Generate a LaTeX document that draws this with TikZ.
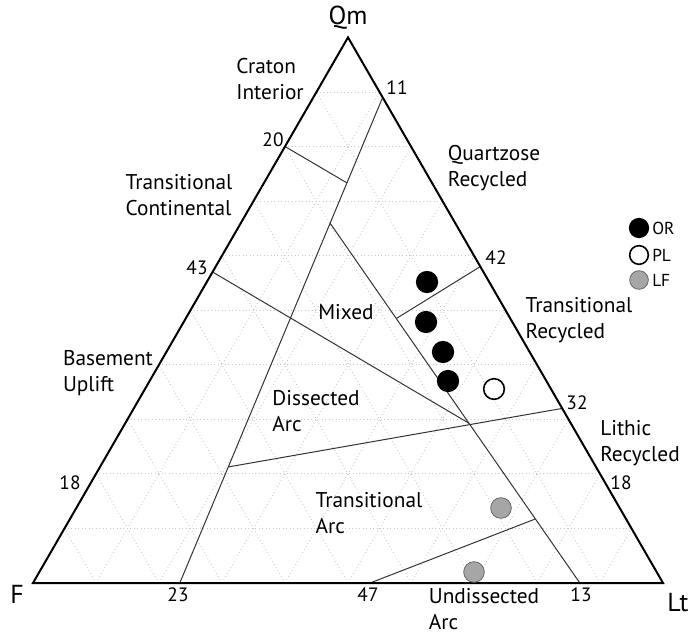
\documentclass[tikz,border=0pt]{standalone}
\usepackage{fontspec}
\setmainfont{PT Sans}
\usetikzlibrary{calc}
\begin{document}
\begin{tikzpicture}[x=0.75pt,y=-0.75pt]
  \tikzset{apex/.style = {font=\fontsize{19.5}{21}\selectfont}}
  \tikzset{field/.style = {font=\fontsize{16}{19.5}\selectfont, align=left, inner sep=0pt}}
  \tikzset{tick/.style = {font=\fontsize{14.5}{16}\selectfont, inner sep=0pt}}
  \tikzset{side/.style = {line width=1.5pt, line join=miter}}
  \tikzset{bound/.style = {line width=0.75pt, draw=black!80}}
  \tikzset{grid/.style = {dotted, draw=black!22, line width=0.6pt}}
  \tikzset{sample/.style = {shape=circle, draw, line width=1.2pt, minimum size=15.5pt, inner sep=0pt}}
  \tikzset{key/.style = {sample, minimum size=14pt}}
  \tikzset{keytext/.style = {font=\fontsize{13}{15}\selectfont, anchor=west, inner sep=0pt}}
  \useasboundingbox (0,0) rectangle (691,634);

  \coordinate (F) at (33,583);
  \coordinate (Lt) at (663,583);
  \coordinate (Qm) at (348,37.4);

  \foreach \i [evaluate=\i as \t using \i/10] in {1,...,9} {
    \draw[grid] ($(Qm)!\t!(F)$) -- ($(Qm)!\t!(Lt)$);
    \draw[grid] ($(F)!\t!(Lt)$) -- ($(F)!\t!(Qm)$);
    \draw[grid] ($(Lt)!\t!(F)$) -- ($(Lt)!\t!(Qm)$);
  }

  \coordinate (a11) at ($(Qm)!0.11!(Lt)$);
  \coordinate (b23) at ($(F)!0.233!(Lt)$);
  \coordinate (c20) at ($(Qm)!0.20!(F)$);
  \coordinate (d43) at ($(Qm)!0.43!(F)$);
  \coordinate (f13) at ($(F)!0.868!(Lt)$);
  \coordinate (g42) at ($(Qm)!0.42!(Lt)$);
  \coordinate (i32) at ($(Qm)!0.68!(Lt)$);
  \coordinate (l47) at ($(F)!0.535!(Lt)$);
  \coordinate (p1) at ($(a11)!0.176!(b23)$);
  \coordinate (e) at ($(a11)!0.259!(b23)$);
  \coordinate (j) at ($(a11)!0.761!(b23)$);
  \coordinate (q) at ($(e)!0.556!(f13)$);
  \coordinate (h) at ($(e)!0.265!(f13)$);
  \coordinate (k) at ($(e)!0.822!(f13)$);

  \draw[bound] (a11) -- (b23);
  \draw[bound] (c20) -- (p1);
  \draw[bound] (d43) -- (q);
  \draw[bound] (e) -- (f13);
  \draw[bound] (g42) -- (h);
  \draw[bound] (j) -- (i32);
  \draw[bound] (k) -- (l47);

  \draw[side] (F) -- (Lt) -- (Qm) -- cycle;

  \node[apex] (qm-lab) at (348,18) {Qm};
  \node[apex] (f-lab) at (17,594) {F};
  \node[apex] (lt-lab) at (678,603) {Lt};

  \node[tick] (t11) at (397,88) {11};
  \node[tick] (t20) at (273,140) {20};
  \node[tick] (t43) at (197,268) {43};
  \node[tick] (t42) at (496,258) {42};
  \node[tick] (t32) at (577,403) {32};
  \node[tick] (t18l) at (70,483) {18};
  \node[tick] (t18r) at (621,483) {18};
  \node[tick] (t23) at (178,595) {23};
  \node[tick] (t47) at (368,595) {47};
  \node[tick] (t13) at (581,595) {13};

  \node[field] (craton) at (270,79) {Craton\\Interior};
  \node[field] (quartz) at (494,168) {Quartzose\\Recycled};
  \node[field] (trcont) at (179,195) {Transitional\\Continental};
  \node[field] (mixed) at (346,312) {Mixed};
  \node[field] (trrec) at (579,320) {Transitional\\Recycled};
  \node[field] (base) at (108,373) {Basement\\Uplift};
  \node[field] (dissect) at (316,411) {Dissected\\Arc};
  \node[field] (lithic) at (640,443) {Lithic\\Recycled};
  \node[field] (trarc) at (369,513) {Transitional\\Arc};
  \node[field] (undis) at (484,609) {Undissected\\Arc};

  \node[sample, fill=black] (or1) at (427,282) {};
  \node[sample, fill=black] (or2) at (426,322) {};
  \node[sample, fill=black] (or3) at (443,352) {};
  \node[sample, fill=black] (or4) at (448,381) {};
  \node[sample, fill=white] (pl1) at (494,389) {};
  \node[sample, fill=black!35, draw=black!60, line width=0.6pt] (lf1) at (501,508) {};
  \node[sample, fill=black!35, draw=black!60, line width=0.6pt] (lf2) at (474,572) {};

  \node[key, fill=black] (key-or) at (639,228) {};
  \node[key, fill=white] (key-pl) at (639,255) {};
  \node[key, fill=black!35, draw=black!60, line width=0.6pt] (key-lf) at (639,280) {};
  \node[keytext] (key-or-lab) at (652,228) {OR};
  \node[keytext] (key-pl-lab) at (652,255) {PL};
  \node[keytext] (key-lf-lab) at (652,280) {LF};
\end{tikzpicture}
\end{document}
